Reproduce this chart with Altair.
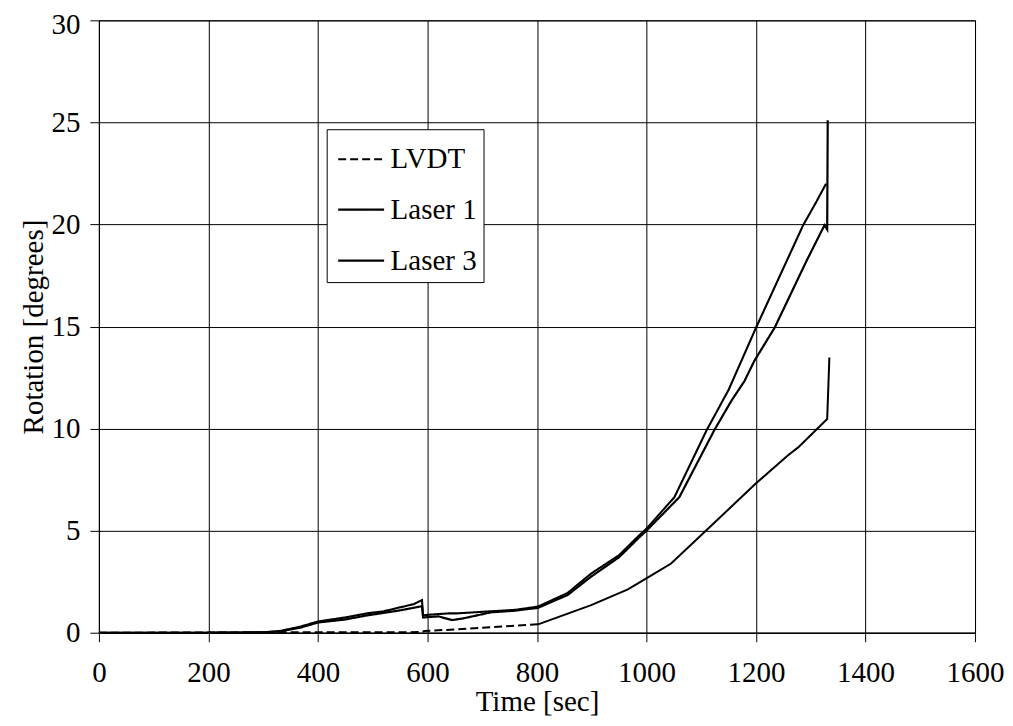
import altair as alt
import pandas as pd

# ---- data ----
series_names = ["LVDT", "Laser 1", "Laser 3"]

lvdt_dash_t = [0, 590, 594, 655, 720, 802]
lvdt_dash_v = [0, 0.03, 0.08, 0.17, 0.28, 0.41]
lvdt_solid_t = [802, 899, 966, 999, 1045, 1106, 1200, 1258, 1277, 1330, 1334]
lvdt_solid_v = [0.41, 1.35, 2.12, 2.65, 3.39, 4.93, 7.32, 8.68, 9.08, 10.47, 13.48]

laser1_t = [0, 100, 200, 300, 330, 368, 400, 450, 490, 520, 551, 575, 590, 592,
            602, 640, 655, 716, 760, 802, 856, 899, 950, 984, 1000, 1051, 1110,
            1150, 1200, 1243, 1286, 1310, 1328]
laser1_v = [0, 0, 0, 0.02, 0.08, 0.3, 0.55, 0.75, 0.95, 1.05, 1.25, 1.4, 1.6, 0.85,
            0.88, 0.95, 0.95, 1.05, 1.12, 1.28, 1.95, 2.9, 3.8, 4.7, 5.1, 6.64, 9.93,
            11.9, 14.94, 17.45, 19.96, 21.1, 22.0]

laser3_t = [0, 100, 200, 300, 330, 368, 400, 450, 490, 551, 590, 592, 620, 645,
            665, 716, 760, 802, 856, 899, 950, 984, 1000, 1060, 1124, 1155, 1179,
            1197, 1234, 1292, 1325, 1330, 1331]
laser3_v = [0, 0, 0, 0.02, 0.06, 0.25, 0.5, 0.65, 0.85, 1.1, 1.3, 0.75, 0.8, 0.62,
            0.7, 1.0, 1.08, 1.22, 1.85, 2.75, 3.7, 4.6, 5.0, 6.64, 9.93, 11.36, 12.33,
            13.32, 14.94, 18.2, 19.96, 19.75, 25.1]

x_ticks = [0, 200, 400, 600, 800, 1000, 1200, 1400, 1600]
y_ticks = [0, 5, 10, 15, 20, 25, 30]

rows = []
def add(name, part, ts, vs):
    for i, (t, v) in enumerate(zip(ts, vs)):
        rows.append({"series": name, "part": part, "i": i, "t": t, "v": v})

add("LVDT", "dash", lvdt_dash_t, lvdt_dash_v)
add("LVDT", "solid", lvdt_solid_t, lvdt_solid_v)
add("Laser 1", "main", laser1_t, laser1_v)
add("Laser 3", "main", laser3_t, laser3_v)
df = pd.DataFrame(rows)

FONT = "Liberation Serif"
FS = 29

x_enc = alt.X("t:Q",
              scale=alt.Scale(domain=[0, 1600], nice=False, zero=False),
              axis=alt.Axis(values=x_ticks, format="d", labelFlush=False,
                            title="Time [sec]", labelPadding=17, titlePadding=0))
y_enc = alt.Y("v:Q",
              scale=alt.Scale(domain=[0, 30], nice=False),
              axis=alt.Axis(values=y_ticks, format="d", title="Rotation [degrees]",
                            labelPadding=10, titlePadding=2,
                            labelOffset={"condition": {"test": "datum.value == 30",
                                                       "value": 4},
                                         "value": 0}))

leg = alt.Legend(title=None, orient="none", legendX=228, legendY=109,
                 strokeColor="black", fillColor="white", padding=6,
                 symbolType="stroke", symbolSize=2116, symbolStrokeColor="black",
                 labelFont=FONT, labelFontSize=FS, labelColor="black",
                 rowPadding=11, labelOffset=5, symbolOffset=4)

main = alt.Chart(df).transform_filter(
    alt.datum.part != "solid"
).mark_line(color="black").encode(
    x=x_enc, y=y_enc,
    strokeDash=alt.StrokeDash("series:N",
                              scale=alt.Scale(domain=series_names,
                                              range=[[8, 4], [1, 0], [1, 0]]),
                              legend=leg),
    strokeWidth=alt.StrokeWidth("series:N",
                                scale=alt.Scale(domain=series_names, range=[2, 2.2, 1.4]),
                                legend=leg),
    order="i:Q",
)

solid = alt.Chart(df).transform_filter(
    alt.datum.part == "solid"
).mark_line(color="black", strokeWidth=2).encode(
    x=x_enc, y=y_enc, order="i:Q"
)

chart = alt.layer(main, solid).properties(
    width=877, height=613,
    autosize=alt.AutoSizeParams(type="none"),
    padding={"left": 91, "top": 12, "right": 30, "bottom": 85},
    background="white",
).configure_view(
    stroke="black", strokeWidth=1
).configure_axis(
    grid=True, gridColor="black", gridOpacity=1, gridWidth=1,
    domainColor="black", tickColor="black", tickSize=9,
    labelFont=FONT, labelFontSize=FS, labelColor="black",
    titleFont=FONT, titleFontSize=FS, titleFontWeight="normal", titleColor="black",
)

chart.save("out.html", embed_options={"renderer": "svg", "actions": False})
